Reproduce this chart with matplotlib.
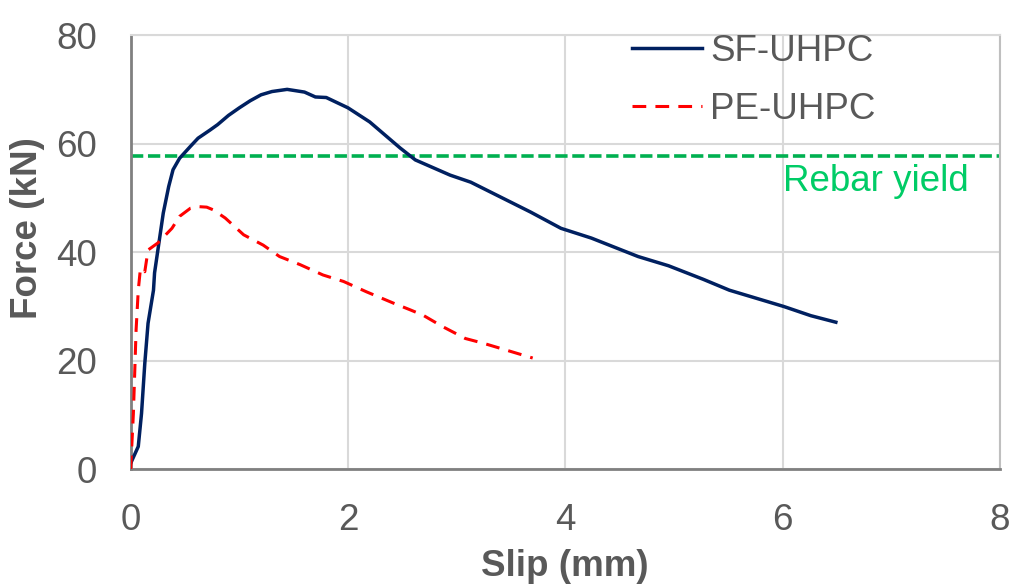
import matplotlib.pyplot as plt
import numpy as np

plt.rcParams['font.family'] = ['Liberation Sans', 'DejaVu Sans']

# SF-UHPC slip (mm) / force (kN)
sf_slip = [0.0, 0.07, 0.10, 0.13, 0.16, 0.21, 0.22, 0.26, 0.30, 0.35, 0.39, 0.45,
           0.55, 0.62, 0.73, 0.80, 0.90, 1.00, 1.10, 1.20, 1.30, 1.44, 1.60, 1.70,
           1.80, 2.00, 2.20, 2.48, 2.62, 2.94, 3.13, 3.40, 3.68, 3.96, 4.24, 4.67,
           4.95, 5.27, 5.51, 6.01, 6.26, 6.49]
sf_force = [1.1, 4.2, 10.3, 19.5, 26.9, 33.0, 36.2, 41.7, 47.2, 52.1, 55.2, 57.3,
            59.5, 61.0, 62.5, 63.5, 65.2, 66.6, 67.9, 69.0, 69.6, 70.0, 69.5, 68.6,
            68.5, 66.6, 64.0, 59.2, 57.0, 54.2, 52.9, 50.2, 47.4, 44.4, 42.6, 39.2,
            37.5, 35.0, 33.0, 30.0, 28.3, 27.1]

# PE-UHPC
pe_slip = [0.0, 0.01, 0.025, 0.04, 0.05, 0.07, 0.09, 0.13, 0.16, 0.25, 0.38, 0.45,
           0.55, 0.62, 0.70, 0.76, 0.87, 1.04, 1.22, 1.37, 1.56, 1.77, 1.96, 2.17,
           2.42, 2.57, 2.69, 2.87, 3.08, 3.25, 3.40, 3.70]
pe_force = [0.0, 4.2, 10.3, 19.5, 25.7, 33.0, 37.0, 36.4, 40.4, 41.7, 44.4, 46.6,
            48.1, 48.4, 48.3, 47.8, 46.3, 43.2, 41.3, 39.2, 37.7, 35.8, 34.6, 32.7,
            30.6, 29.4, 28.4, 26.3, 24.1, 23.2, 22.3, 20.5]

rebar_yield = 57.7
x_ticks = [0, 2, 4, 6, 8]
y_ticks = [0, 20, 40, 60, 80]

gray = '#595959'
fs = 26.5

fig = plt.figure(figsize=(10.09, 5.85), dpi=100)
ax = fig.add_axes([0.1295, 0.1978, 0.8615, 0.7422])

ax.plot(sf_slip, sf_force, color='#002060', lw=2.5, label='SF-UHPC', zorder=3)
ax.plot(pe_slip, pe_force, color='#FF0000', lw=2.2, dashes=(4.5, 3), label='PE-UHPC', zorder=3)
ax.axhline(rebar_yield, color='#00B050', lw=2.6, dashes=(3.4, 1.3), zorder=2)
ax.text(6.0, 53.1, 'Rebar yield', color='#00CC66', fontsize=fs, ha='left', va='center')

ax.set_xlim(0, 8)
ax.set_ylim(0, 80)
ax.set_xticks(x_ticks)
ax.set_yticks(y_ticks)
ax.grid(True, color='#D9D9D9', lw=1.5)
ax.set_axisbelow(True)
ax.tick_params(length=0, labelsize=fs, labelcolor=gray, pad=24)

for s in ['left', 'bottom']:
    ax.spines[s].set_color('#808080')
    ax.spines[s].set_linewidth(2)
ax.spines['right'].set_color('#BFBFBF')
ax.spines['right'].set_linewidth(1.5)
ax.spines['top'].set_color('#D9D9D9')
ax.spines['top'].set_linewidth(1.5)

ax.set_xlabel('Slip (mm)', fontsize=fs, fontweight='bold', color=gray, va='center')
ax.xaxis.set_label_coords(0.499, -0.225)
ax.set_ylabel('Force (kN)', fontsize=fs, fontweight='bold', color=gray, va='center')
ax.yaxis.set_label_coords(-0.119, 0.556)

ax.legend(loc='upper left', bbox_to_anchor=(0.577, 1.003), frameon=False, fontsize=fs,
          labelcolor=gray, handlelength=1.9, handletextpad=0.22, labelspacing=0.62,
          borderpad=0, borderaxespad=0)

fig.savefig('out.png', dpi=100)
